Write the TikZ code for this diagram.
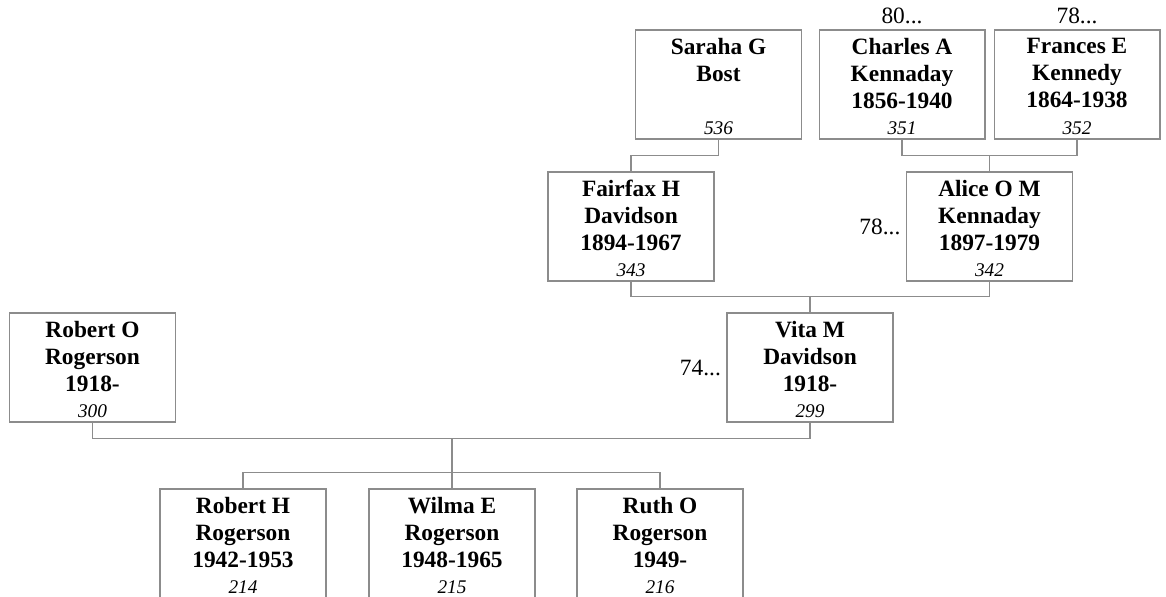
\documentclass[tikz,border=0pt]{standalone}
\usepackage{fontspec}
\setmainfont{Liberation Serif}
\usepackage{tikz}
\usetikzlibrary{positioning,calc}
\definecolor{linegray}{HTML}{8C8C8C}
\newcommand{\whofont}{\fontsize{13.3}{15.3}\selectfont\bfseries}
\newcommand{\idfont}{\fontsize{11}{13}\selectfont\itshape}
\tikzset{
  pbox/.style={draw=linegray,line width=0.6pt,minimum width=3.32cm,minimum height=2.18cm,inner sep=0pt},
  who/.style={anchor=north,align=center,font=\whofont,inner sep=4.8pt},
  pnum/.style={anchor=south,font=\idfont,inner sep=2.8pt},
  more/.style={font=\fontsize{13.3}{15.3}\selectfont,inner sep=3pt},
  link/.style={draw=linegray,line width=0.6pt}
}
\begin{document}
\begin{tikzpicture}[x=0.02cm,y=-0.02cm]
  \useasboundingbox (0,0) rectangle (1166,596);
  \clip (0,0) rectangle (1166,596);
  \node[pbox,label={[who]north:{Saraha G\\Bost}},label={[pnum]south:536}] (saraha) at (718.5,84.5){};
  \node[pbox,label={[who]north:{Charles A\\Kennaday\\1856-1940}},label={[pnum]south:351},label={[more]north:80...}] (charles) at (902,84.5){};
  \node[pbox,label={[who]north:{Frances E\\Kennedy\\1864-1938}},label={[pnum]south:352},label={[more]north:78...}] (frances) at (1077,84.5){};
  \node[pbox,label={[who]north:{Fairfax H\\Davidson\\1894-1967}},label={[pnum]south:343}] (fairfax) at (631,226.5){};
  \node[pbox,label={[who]north:{Alice O M\\Kennaday\\1897-1979}},label={[pnum]south:342},label={[more]west:78...}] (alice) at (989.5,226.5){};
  \node[pbox,label={[who]north:{Robert O\\Rogerson\\1918-}},label={[pnum]south:300}] (roberto) at (92.5,367.5){};
  \node[pbox,label={[who]north:{Vita M\\Davidson\\1918-}},label={[pnum]south:299},label={[more]west:74...}] (vita) at (810,367.5){};
  \foreach \nm/\x/\who/\num in {robh/243/{Robert H\\Rogerson\\1942-1953}/214,wilma/452/{Wilma E\\Rogerson\\1948-1965}/215,ruth/660/{Ruth O\\Rogerson\\1949-}/216}{
    \node[pbox,label={[who]north:{\who}},label={[pnum]south:\num}] (\nm) at (\x,543.5){};
  }
  \draw[link] (saraha.south) -- ++(0,16) -| (fairfax.north);
  \draw[link] (charles.south) -- ++(0,16) coordinate (ckf) -| (frances.south);
  \draw[link] (alice.north) -- (alice.north |- ckf);
  \draw[link] (fairfax.south) -- ++(0,15) coordinate (fda) -| (alice.south);
  \draw[link] (vita.north) -- (vita.north |- fda);
  \draw[link] (roberto.south) -- ++(0,16) coordinate (rov) -| (vita.south);
  \draw[link] (robh.north) -- ++(0,-16) -| (ruth.north);
  \draw[link] (wilma.north) -- (wilma.north |- rov);
\end{tikzpicture}
\end{document}
